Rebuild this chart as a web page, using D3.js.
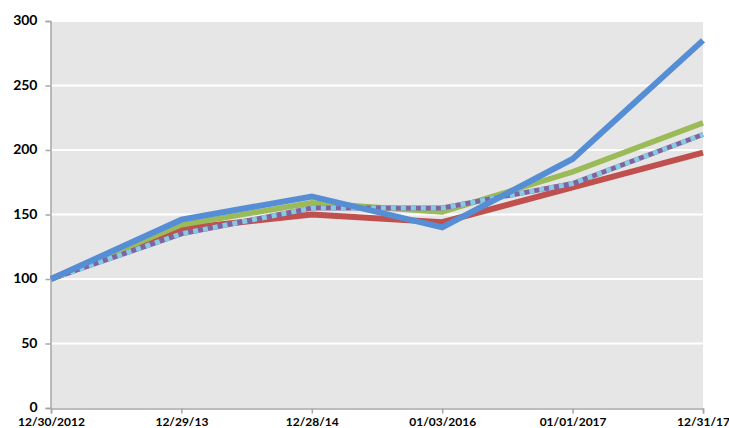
<!DOCTYPE html>
<html>
<head>
<meta charset="utf-8">
<script src="https://cdn.jsdelivr.net/npm/d3@7"></script>
<style>
  body { margin: 0; background: #fff; }
  text { font-family: Lato, "Open Sans", sans-serif; font-weight: bold; fill: #000; }
</style>
</head>
<body>
<svg id="chart" width="729" height="428"></svg>
<script>
// Category labels along the bottom
let dates = ["12/30/2012", "12/29/13", "12/28/14", "01/03/2016", "01/01/2017", "12/31/17"];
let yTicks = [0, 50, 100, 150, 200, 250, 300];

// Series values
let redValues = [100, 139, 150, 144, 171, 198];
let greenValues = [100, 142, 159, 152, 183, 221];
let dottedValues = [100, 135, 155, 155, 174, 212];
let blueValues = [100, 146, 164, 140, 193, 285];

let svg = d3.select("#chart");
let plotLeft = 51, plotRight = 703, plotTop = 21, plotBottom = 408;

let x = d3.scalePoint().domain(dates).range([plotLeft, plotRight]);
let y = d3.scaleLinear().domain([0, 300]).range([plotBottom, plotTop]);

// plot background
svg.append("rect")
    .attr("x", plotLeft).attr("y", plotTop)
    .attr("width", plotRight - plotLeft).attr("height", plotBottom - plotTop)
    .attr("fill", "#e6e6e6");

// gridlines
svg.selectAll(".grid")
    .data(yTicks.filter(d => d > 0))
    .enter().append("line")
    .attr("class", "grid")
    .attr("x1", plotLeft).attr("x2", plotRight)
    .attr("y1", d => y(d)).attr("y2", d => y(d))
    .attr("stroke", "#fff")
    .attr("stroke-width", 2);

// axes
let yAxis = svg.append("g")
    .attr("transform", "translate(" + (plotLeft - 0.5) + ",0)")
    .call(d3.axisLeft(y).tickValues(yTicks).tickSize(5).tickPadding(8));
let xAxis = svg.append("g")
    .attr("transform", "translate(0," + (plotBottom + 0.5) + ")")
    .call(d3.axisBottom(x).tickSize(5).tickPadding(4));

[yAxis, xAxis].forEach(function (g) {
    g.select(".domain").attr("stroke", "#a6a6a6").attr("stroke-width", 1.5);
    g.selectAll(".tick line").attr("stroke", "#a6a6a6").attr("stroke-width", 1.5);
    g.selectAll("text").style("font-size", "14px").attr("fill", "#000");
});
xAxis.selectAll("text").style("font-size", "12px");
yAxis.selectAll("text").attr("dy", "0.26em");

let line = d3.line()
    .x((d, i) => x(dates[i]))
    .y(d => y(d));

function drawSeries(values, color, width, dash) {
    svg.append("path")
        .datum(values)
        .attr("fill", "none")
        .attr("stroke", color)
        .attr("stroke-width", width)
        .attr("stroke-dasharray", dash || null)
        .attr("d", line);
}

drawSeries(redValues, "#c0504d", 6);
drawSeries(greenValues, "#9bbb59", 5.5);
drawSeries(dottedValues, "#8064a2", 5);
drawSeries(dottedValues, "#86cbdf", 5, "5,5");
drawSeries(blueValues, "#558ed5", 6);
</script>
</body>
</html>
